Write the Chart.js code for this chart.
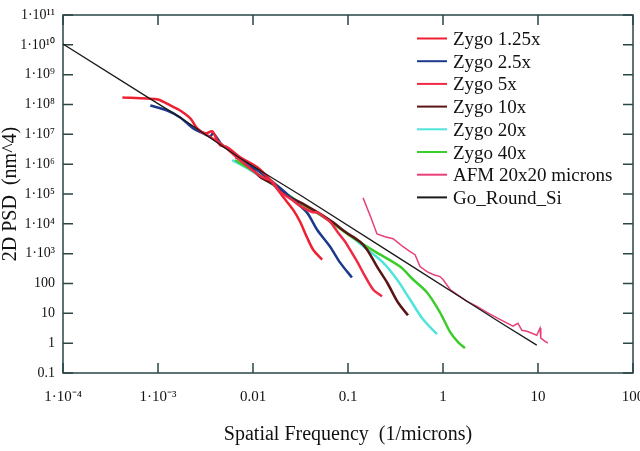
<!DOCTYPE html>
<html>
<head>
<meta charset="utf-8">
<script src="https://cdn.jsdelivr.net/npm/chart.js@4"></script>
<style>
body { margin: 0; background: #fff; }
#wrap { width: 640px; height: 451px; }
</style>
</head>
<body>
<div id="wrap"><canvas id="grafico"></canvas></div>
<script>
// ticks
const xTickValues = [1e-4, 1e-3, 0.01, 0.1, 1, 10, 100]
const xTickLabels = ['1·10⁻⁴', '1·10⁻³', '0.01', '0.1', '1', '10', '100']
const yTickValues = [0.1, 1, 10, 100, 1e3, 1e4, 1e5, 1e6, 1e7, 1e8, 1e9, 1e10, 1e11]
const yTickLabels = ['0.1', '1', '10', '100', '1·10³', '1·10⁴', '1·10⁵', '1·10⁶', '1·10⁷', '1·10⁸', '1·10⁹', '1·10¹⁰', '1·10¹¹']

// series [frequency, psd]
const zygo125 = [[4.22e-4,1.71e8],[7.71e-4,1.58e8],[1.0e-3,1.47e8],[1.35e-3,9.3e7],[1.71e-3,6.3e7],[2.19e-3,3.4e7],[2.59e-3,1.58e7],[3.14e-3,1.08e7],[3.72e-3,1.26e7],[4.1e-3,7.4e6],[4.52e-3,4.3e6],[5.35e-3,3.69e6],[7.33e-3,1.71e6],[0.0111,7.9e5],[0.0152,2.93e5],[0.0208,7.9e4],[0.0265,2.93e4],[0.0313,1.17e4],[0.0372,3.4e3],[0.043,1.36e3],[0.0534,631]]
const zygo25 = [[8.3e-4,9.3e7],[1.25e-3,6.3e7],[1.71e-3,3.69e7],[2.35e-3,1.58e7],[2.99e-3,1.08e7],[3.55e-3,8.6e6],[3.8e-3,1.1e7],[4.2e-3,7.4e6],[4.75e-3,4.3e6],[5.75e-3,2.93e6],[7.33e-3,1.58e6],[0.0119,5.4e5],[0.0193,1.58e5],[0.0265,6.3e4],[0.0372,2.33e4],[0.0473,6.3e3],[0.0648,1.71e3],[0.0826,501],[0.11,158]]
const zygo5 = [[2.79e-3,1.26e7],[4.52e-3,5.0e6],[7.33e-3,1.36e6],[0.0119,4.0e5],[0.016,2.6e5],[0.0193,1.17e5],[0.025,6.8e4],[0.0313,4.0e4],[0.0419,2.5e4],[0.048,2.4e4],[0.0534,1.85e4],[0.0648,1.17e4],[0.0787,5.0e3],[0.0933,2.5e3],[0.105,1.36e3],[0.125,541],[0.144,233],[0.184,63],[0.228,37]]
const zygo10 = [[6.5e-3,1.71e6],[8.5e-3,1.2e6],[0.0119,3.69e5],[0.017,2.0e5],[0.0246,7.9e4],[0.034,4.6e4],[0.0509,2.15e4],[0.07,1.1e4],[0.0933,5.4e3],[0.134,2.5e3],[0.159,1.36e3],[0.202,369],[0.258,108],[0.336,23],[0.428,8.6]]
const zygo20 = [[6.04e-3,1.36e6],[9.35e-3,6.3e5],[0.0152,2.33e5],[0.0278,6.3e4],[0.0509,2.0e4],[0.0933,5.4e3],[0.151,1.58e3],[0.234,501],[0.328,136],[0.45,29],[0.616,6.3],[0.865,2.0]]
const zygo40 = [[6.5e-3,1.36e6],[0.0105,5.4e5],[0.0171,1.85e5],[0.0313,5.0e4],[0.0574,1.58e4],[0.105,4.0e3],[0.193,1.17e3],[0.353,369],[0.484,136],[0.679,50],[0.929,10.8],[1.19,2.33],[1.44,1.08],[1.70,0.68]]
const afm = [[0.144,7.4e4],[0.175,1.58e4],[0.202,4.6e3],[0.245,3.7e3],[0.298,3.16e3],[0.336,2.33e3],[0.38,1.71e3],[0.45,1.17e3],[0.508,926],[0.573,369],[0.679,251],[0.785,200],[0.929,171],[1.0,136],[1.19,63],[1.40,43],[1.79,25],[2.28,17],[2.90,10.8],[3.97,6.3],[5.45,3.7],[6.15,4.6],[6.77,2.7],[7.64,2.5],[8.63,2.15],[9.7,1.85],[10.5,3.2],[10.7,1.47],[11.8,1.17],[12.7,1.0]]
const goRoundSi = [[1e-4,1.07e10],[7.9e-4,1.7e8],[1.71e-3,3.7e7],[7.33e-3,1.58e6],[0.0313,9.3e4],[0.353,681],[3.97,5.0],[9.7,0.86]]

const corEixo = '#2a4646'
Chart.defaults.font.family = "'Liberation Serif', 'Times New Roman', serif"
Chart.defaults.color = '#111'

function serie(nome, pontos, cor, largura, ordem, curva) {
    return {
        label: nome,
        data: pontos.map(p => ({x: p[0], y: p[1]})),
        borderColor: cor,
        backgroundColor: cor,
        borderWidth: largura,
        showLine: true,
        pointRadius: 0,
        tension: curva,
        order: ordem
    }
}

const moldura = {
    id: 'moldura',
    beforeDatasetsDraw(chart) {
        const ctx = chart.ctx
        const a = chart.chartArea
        const sx = chart.scales.x
        const sy = chart.scales.y
        ctx.save()
        ctx.strokeStyle = corEixo
        ctx.lineWidth = 1.5
        ctx.strokeRect(a.left, a.top, a.right - a.left, a.bottom - a.top)
        ctx.beginPath()
        xTickValues.forEach(v => {
            const px = sx.getPixelForValue(v)
            ctx.moveTo(px, a.bottom); ctx.lineTo(px, a.bottom - 10)
            ctx.moveTo(px, a.top); ctx.lineTo(px, a.top + 10)
        })
        yTickValues.forEach(v => {
            const py = sy.getPixelForValue(v)
            ctx.moveTo(a.left, py); ctx.lineTo(a.left + 10, py)
            ctx.moveTo(a.right, py); ctx.lineTo(a.right - 10, py)
        })
        ctx.stroke()
        ctx.restore()
    },
    afterDraw(chart) {
        // legenda
        const ctx = chart.ctx
        ctx.save()
        ctx.font = "19px 'Liberation Serif', serif"
        ctx.textBaseline = 'alphabetic'
        chart.data.datasets.forEach((ds, i) => {
            const y = 38.5 + i * 22.7
            ctx.strokeStyle = ds.borderColor
            ctx.lineWidth = 2
            ctx.beginPath()
            ctx.moveTo(417, y); ctx.lineTo(447, y)
            ctx.stroke()
            ctx.fillStyle = '#111'
            ctx.fillText(ds.label, 453, y + 6.5)
        })
        ctx.restore()
    }
}

const ctx = document.getElementById('grafico').getContext('2d')

new Chart(ctx, {
    type: 'scatter',
    data: {
        datasets: [
            serie('Zygo 1.25x', zygo125, '#ee2030', 2.5, 2, 0.3),
            serie('Zygo 2.5x', zygo25, '#1c3a8c', 2.5, 3, 0.3),
            serie('Zygo 5x', zygo5, '#f02a44', 2.5, 1, 0.3),
            serie('Zygo 10x', zygo10, '#5a1414', 2.5, 4, 0.3),
            serie('Zygo 20x', zygo20, '#50e4dc', 2.5, 6, 0.3),
            serie('Zygo 40x', zygo40, '#3ccc2c', 2.5, 5, 0.3),
            serie('AFM 20x20 microns', afm, '#e8407a', 1.5, 1, 0),
            serie('Go_Round_Si', goRoundSi, '#1a1a1a', 1.3, 0, 0)
        ]
    },
    options: {
        responsive: true,
        maintainAspectRatio: false,
        animation: false,
        layout: { padding: { top: 15, right: 7, left: 0, bottom: 0 } },
        plugins: {
            legend: { display: false },
            tooltip: { enabled: false }
        },
        scales: {
            x: {
                type: 'logarithmic',
                min: 1e-4,
                max: 100,
                grid: { display: false, drawTicks: false },
                border: { display: false },
                afterBuildTicks: s => { s.ticks = xTickValues.map(v => ({value: v})) },
                afterFit: s => { s.height = 78; s.paddingLeft = 0; s.paddingRight = 0 },
                ticks: {
                    autoSkip: false,
                    maxRotation: 0,
                    minRotation: 0,
                    padding: 15,
                    font: { size: 15 },
                    color: '#111',
                    callback: (v, i) => xTickLabels[i]
                },
                title: {
                    display: true,
                    text: 'Spatial Frequency  (1/microns)',
                    font: { size: 20 },
                    color: '#111',
                    padding: { top: 0, bottom: 4 }
                }
            },
            y: {
                type: 'logarithmic',
                min: 0.1,
                max: 1e11,
                grid: { display: false, drawTicks: false },
                border: { display: false },
                afterBuildTicks: s => { s.ticks = yTickValues.map(v => ({value: v})) },
                afterFit: s => { s.width = 63; s.paddingTop = 0; s.paddingBottom = 0 },
                ticks: {
                    autoSkip: false,
                    padding: 8,
                    font: { size: 14 },
                    color: '#111',
                    callback: (v, i) => yTickLabels[i]
                },
                title: {
                    display: true,
                    text: '2D PSD  (nm^4)',
                    font: { size: 20, lineHeight: 1 },
                    color: '#111',
                    padding: { top: 1, bottom: 0 }
                }
            }
        }
    },
    plugins: [moldura]
})
</script>
</body>
</html>
